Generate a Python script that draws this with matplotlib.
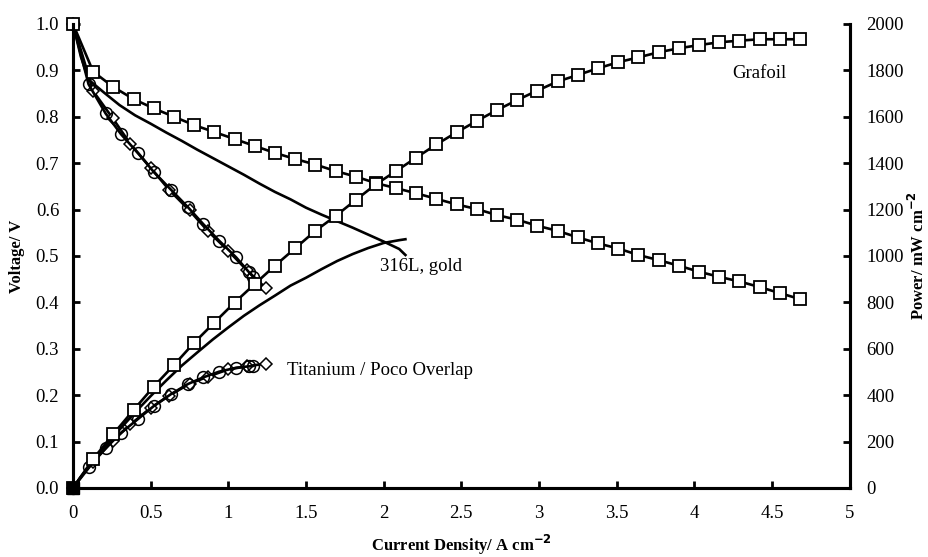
import numpy as np
import matplotlib.pyplot as plt

plt.rcParams['font.family'] = ['Liberation Serif', 'DejaVu Serif']

# Grafoil plate (squares)
graf_i = [0, 0.13, 0.26, 0.39, 0.52, 0.65, 0.78, 0.91, 1.04, 1.17, 1.30, 1.43, 1.56,
          1.69, 1.82, 1.95, 2.08, 2.21, 2.34, 2.47, 2.60, 2.73, 2.86, 2.99, 3.12,
          3.25, 3.38, 3.51, 3.64, 3.77, 3.90, 4.03, 4.16, 4.29, 4.42, 4.55, 4.68]
graf_v = [1.0, 0.897, 0.864, 0.838, 0.818, 0.800, 0.782, 0.767, 0.752, 0.737, 0.722,
          0.709, 0.697, 0.683, 0.671, 0.657, 0.646, 0.635, 0.623, 0.611, 0.601, 0.588,
          0.578, 0.565, 0.554, 0.540, 0.527, 0.516, 0.502, 0.491, 0.479, 0.466, 0.455,
          0.445, 0.433, 0.420, 0.407]
graf_p = [0, 125, 233, 336, 437, 530, 626, 713, 799, 879, 958, 1033, 1108, 1172, 1241,
          1309, 1366, 1424, 1481, 1533, 1582, 1629, 1672, 1713, 1752, 1780, 1809, 1835,
          1856, 1878, 1895, 1909, 1921, 1928, 1934, 1934, 1934]

# 316L stainless, gold coated (plain line)
ss_i = [0, 0.05, 0.1, 0.2, 0.3, 0.4, 0.5, 0.6, 0.7, 0.8, 0.9, 1.0, 1.1, 1.2, 1.3, 1.4,
        1.5, 1.6, 1.7, 1.8, 1.9, 2.0, 2.1, 2.14]
ss_v = [1.0, 0.93, 0.88, 0.852, 0.825, 0.803, 0.785, 0.766, 0.748, 0.729, 0.711, 0.693,
        0.675, 0.656, 0.638, 0.622, 0.604, 0.589, 0.575, 0.561, 0.546, 0.531, 0.515, 0.502]
ss_p = [0, 48, 88, 174, 252, 326, 396, 463, 527, 584, 640, 692, 742, 787, 829, 872,
        906, 943, 978, 1008, 1034, 1056, 1068, 1072]

# Titanium / Poco overlap (circles and diamonds)
ti_i = [0, 0.10, 0.21, 0.31, 0.42, 0.52, 0.63, 0.74, 0.84, 0.94, 1.05, 1.13, 1.16]
ti_v = [1.0, 0.870, 0.807, 0.762, 0.721, 0.681, 0.643, 0.605, 0.568, 0.533, 0.497,
        0.466, 0.455]
ti_p = [0, 92, 171, 238, 298, 353, 404, 448, 477, 501, 518, 524, 526]

poco_i = [0, 0.13, 0.255, 0.37, 0.50, 0.62, 0.75, 0.87, 1.00, 1.12, 1.24]
poco_v = [1.0, 0.855, 0.797, 0.741, 0.690, 0.642, 0.598, 0.553, 0.511, 0.469, 0.431]
poco_p = [0, 111, 203, 274, 345, 398, 449, 480, 511, 524, 536]

x_ticks = [0, 0.5, 1, 1.5, 2, 2.5, 3, 3.5, 4, 4.5, 5]
x_labels = ['0', '0.5', '1', '1.5', '2', '2.5', '3', '3.5', '4', '4.5', '5']

fig = plt.figure(figsize=(9.29, 5.57), dpi=100)
ax = fig.add_axes([0.0786, 0.124, 0.836, 0.833])
ax2 = ax.twinx()

lw = 1.9
sq = dict(marker='s', ms=8.5, mfc='white', mec='black', mew=1.3)
ci = dict(marker='o', ms=8.5, mfc='none', mec='black', mew=1.1)
di = dict(marker='D', ms=6.0, mfc='white', mec='black', mew=1.1)

# voltage curves
ax.plot(poco_i, poco_v, color='black', lw=lw, clip_on=False, **di)
ax.plot(ti_i, ti_v, color='black', lw=lw, clip_on=False, **ci)
ax.plot(ss_i, ss_v, color='black', lw=lw)
ax.plot(graf_i, graf_v, color='black', lw=lw, clip_on=False, **sq)

# power curves
ax2.plot(poco_i, poco_p, color='black', lw=lw, clip_on=False, **di)
ax2.plot(ti_i, ti_p, color='black', lw=lw, clip_on=False, **ci)
ax2.plot(ss_i, ss_p, color='black', lw=lw)
ax2.plot(graf_i, graf_p, color='black', lw=lw, clip_on=False, **sq)
# origin point sits on the axes corner and prints solid
ax2.plot(graf_i[:1], graf_p[:1], 's', ms=8.5, mfc='black', mec='black', clip_on=False, zorder=5)

ax.set_xlim(0, 5)
ax.set_ylim(0, 1.0)
ax2.set_ylim(0, 2000)
ax.set_xticks(x_ticks)
ax.set_xticklabels(x_labels)
ax.set_yticks(np.arange(0, 1.01, 0.1))
ax.set_yticklabels([f'{v:.1f}' for v in np.arange(0, 1.01, 0.1)])
ax2.set_yticks(range(0, 2001, 200))

for a in (ax, ax2):
    a.spines['top'].set_visible(False)
    for s in ('left', 'right', 'bottom'):
        a.spines[s].set_linewidth(2.2)
    a.tick_params(direction='in', length=5, width=2, labelsize=13.5)
ax.tick_params(axis='y', pad=10)
ax2.tick_params(axis='y', pad=12)
ax.tick_params(axis='x', pad=12)

ax.set_xlabel('Current Density/ A cm$^{\\mathbf{-2}}$', fontsize=12, fontweight='bold', labelpad=8)
ax.set_ylabel('Voltage/ V', fontsize=12, fontweight='bold', labelpad=8)
ax2.set_ylabel('Power/ mW cm$^{\\mathbf{-2}}$', fontsize=12, fontweight='bold', labelpad=3)

ax.text(4.42, 0.894, 'Grafoil', fontsize=13.5, ha='center', va='center')
ax.text(2.24, 0.477, '316L, gold', fontsize=13.5, ha='center', va='center')
ax.text(1.38, 0.254, 'Titanium / Poco Overlap', fontsize=13.5, ha='left', va='center')

fig.savefig('out.png', dpi=100)
